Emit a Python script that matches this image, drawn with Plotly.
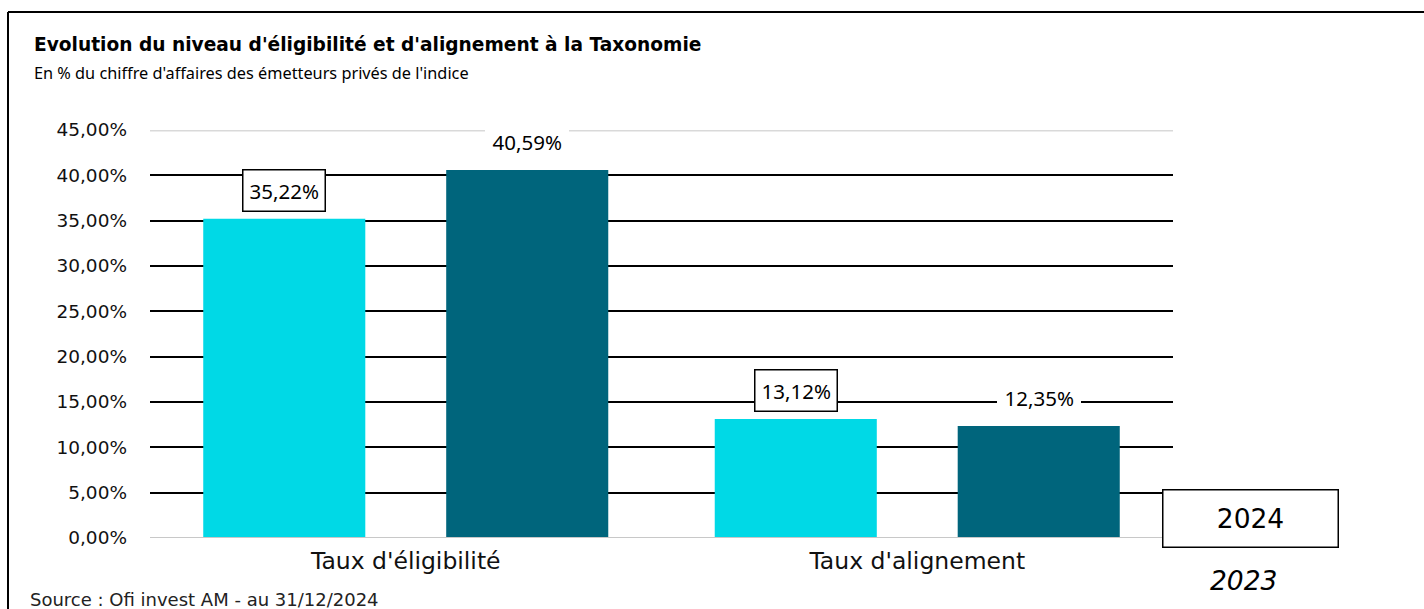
import plotly.graph_objects as go

categories = ["Taux d'éligibilité", "Taux d'alignement"]
years = ["2023", "2024"]
values_2023 = [35.22, 13.12]
values_2024 = [40.59, 12.35]
labels_2023 = ["35,22%", "13,12%"]
labels_2024 = ["40,59%", "12,35%"]
tick_vals = [0, 5, 10, 15, 20, 25, 30, 35, 40, 45]
tick_text = ["0,00%", "5,00%", "10,00%", "15,00%", "20,00%", "25,00%",
             "30,00%", "35,00%", "40,00%", "45,00%"]

CYAN = "#00D9E6"
TEAL = "#00657C"
WIDE = "DejaVu Sans"
HUM = "Noto Sans"

W, H = 1424, 609
# plot area in pixels
X0, X1, Y0, Y1 = 150, 1173, 130, 538
L, R, T, B = X0, W - X1, Y0, H - Y1
pw, ph = X1 - X0, Y1 - Y0


def px(x):
    return (x - X0) / pw


def py(y):
    return (Y1 - y) / ph


fig = go.Figure()
fig.add_trace(go.Bar(x=categories, y=values_2023, name=years[0],
                     marker=dict(color=CYAN, line=dict(width=0))))
fig.add_trace(go.Bar(x=categories, y=values_2024, name=years[1],
                     marker=dict(color=TEAL, line=dict(width=0))))

annotations = []
# data labels
for i, cat in enumerate(categories):
    annotations.append(dict(
        x=cat, y=values_2023[i], xref="x", yref="y", text=labels_2023[i],
        showarrow=False, xshift=-121.5, yanchor="bottom", yshift=7,
        font=dict(family=HUM, size=20.5, color="black"),
        bgcolor="white", bordercolor="black", borderwidth=1.5, borderpad=6))
    annotations.append(dict(
        x=cat, y=values_2024[i], xref="x", yref="y", text=labels_2024[i],
        showarrow=False, xshift=121.5, yanchor="bottom", yshift=7,
        font=dict(family=HUM, size=20.5, color="black"),
        bgcolor="white", bordercolor="white", borderwidth=1.5, borderpad=6))

# title, subtitle, source
annotations += [
    dict(x=px(32), y=py(44), xref="paper", yref="paper", xanchor="left", yanchor="middle",
         text="<b>Evolution du niveau d'éligibilité et d'alignement à la Taxonomie</b>",
         showarrow=False, font=dict(family=WIDE, size=18.6, color="black")),
    dict(x=px(32), y=py(73), xref="paper", yref="paper", xanchor="left", yanchor="middle",
         text="En % du chiffre d'affaires des émetteurs privés de l'indice",
         showarrow=False, font=dict(family=HUM, size=16.3, color="black")),
    dict(x=px(28), y=py(599), xref="paper", yref="paper", xanchor="left", yanchor="middle",
         text="Source : Ofi invest AM - au 31/12/2024",
         showarrow=False, font=dict(family=WIDE, size=18, color="#222")),
    # legend-like labels
    dict(x=px(1250), y=py(518), xref="paper", yref="paper", text=years[1],
         xanchor="center", yanchor="middle",
         showarrow=False, width=172, height=54,
         font=dict(family=WIDE, size=26.5, color="black"),
         bgcolor="white", bordercolor="black", borderwidth=1.5),
    dict(x=px(1243), y=py(580), xref="paper", yref="paper", text="<i>" + years[0] + "</i>",
         xanchor="center", yanchor="middle",
         showarrow=False, font=dict(family=WIDE, size=26.5, color="black")),
]

shapes = [
    # outer frame
    dict(type="line", xref="paper", yref="paper", x0=px(8), x1=px(1440), y0=py(12), y1=py(12),
         line=dict(color="black", width=2)),
    dict(type="line", xref="paper", yref="paper", x0=px(8), x1=px(8), y0=py(12), y1=py(640),
         line=dict(color="black", width=2)),
    # light top and base grid lines
    dict(type="line", xref="paper", yref="y", x0=0, x1=1, y0=45, y1=45,
         line=dict(color="#d9d9d9", width=3), layer="below"),
    dict(type="line", xref="paper", yref="y", x0=0, x1=1, y0=0, y1=0,
         line=dict(color="#c8c8c8", width=2), layer="above"),
]

fig.update_layout(
    width=W, height=H,
    margin=dict(l=L, r=R, t=T, b=B),
    paper_bgcolor="white", plot_bgcolor="white",
    barmode="group", bargap=0.05, bargroupgap=0.333,
    showlegend=False,
    annotations=annotations, shapes=shapes,
    xaxis=dict(showgrid=False, showline=False, ticks="",
               tickfont=dict(family=WIDE, size=23.5, color="#111"),
               ticklabelstandoff=6),
    yaxis=dict(range=[0, 45], tickvals=tick_vals, ticktext=tick_text,
               showgrid=True, gridcolor="black", gridwidth=2,
               zeroline=False, showline=False, ticks="",
               tickfont=dict(family=WIDE, size=18.5, color="#111"),
               ticklabelstandoff=22),
)

fig.write_html("out.html", config={"displayModeBar": False},
               post_script="document.body.style.margin='0';document.body.style.overflow='hidden';")
